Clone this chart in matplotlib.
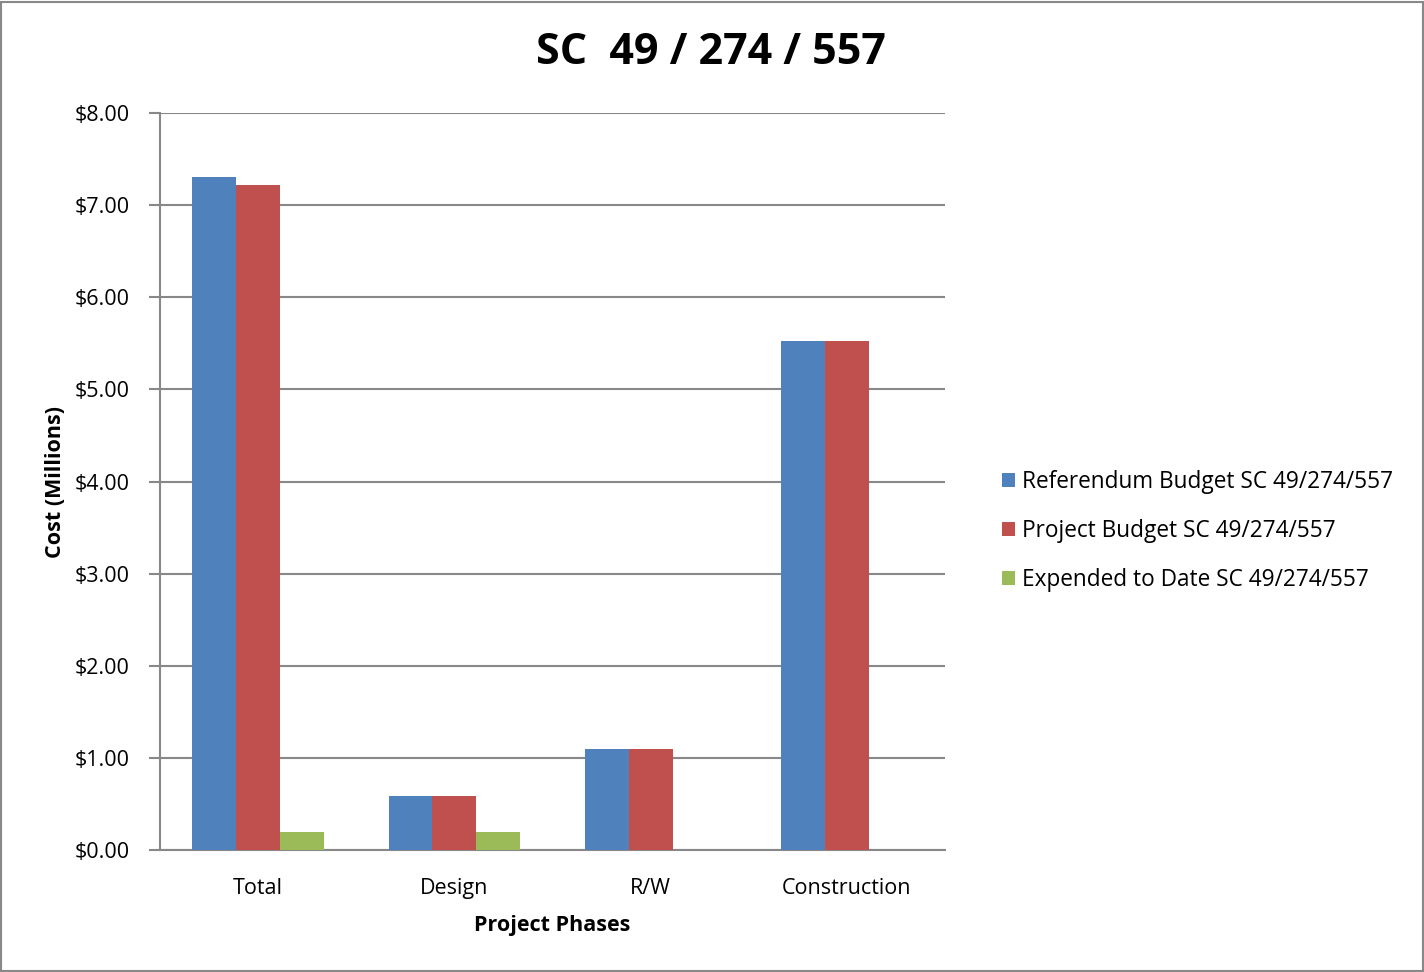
import numpy as np
import matplotlib.pyplot as plt
from matplotlib.patches import Rectangle

plt.rcParams['font.family'] = ['Open Sans', 'DejaVu Sans']

phases = ["Total", "Design", "R/W", "Construction"]
referendum = [7.30, 0.59, 1.10, 5.53]
project = [7.22, 0.59, 1.10, 5.53]
expended = [0.19, 0.19, 0.0, 0.0]
series_names = ["Referendum Budget SC 49/274/557",
                "Project Budget SC 49/274/557",
                "Expended to Date SC 49/274/557"]
colors = ["#4F81BD", "#C0504D", "#9BBB59"]

fig = plt.figure(figsize=(14.24, 9.72), dpi=100)
ax = fig.add_axes([160 / 1424, 1 - 850 / 972, 785 / 1424, 737 / 972])

x = np.arange(len(phases))
w = 0.223
for i, (vals, name, c) in enumerate(zip([referendum, project, expended], series_names, colors)):
    ax.bar(x + (i - 1) * w, vals, w, color=c, label=name, zorder=3)

ax.set_xlim(-0.5, 3.5)
ax.set_ylim(0, 8)
ax.set_yticks(np.arange(0, 9, 1))
ax.set_yticklabels([f"${v:.2f}" for v in range(9)], fontsize=15.5)
ax.set_xticks(x)
ax.set_xticklabels(phases, fontsize=15.5)
ax.tick_params(axis='x', length=0, pad=20)
ax.tick_params(axis='y', length=8, color='#888888', width=1.5, pad=14)
ax.grid(axis='y', color='#888888', linewidth=1.5, zorder=0)
for s in ['top', 'right']:
    ax.spines[s].set_visible(False)
for s in ['left', 'bottom']:
    ax.spines[s].set_color('#888888')
    ax.spines[s].set_linewidth(1.5)

ax.set_xlabel("Project Phases", fontsize=15.5, fontweight='bold', labelpad=12)
ax.set_ylabel("Cost (Millions)", fontsize=15.5, fontweight='bold', labelpad=6)
fig.text(711 / 1424, 1 - 52 / 972, "SC  49 / 274 / 557", fontsize=31, fontweight='bold',
         ha='center', va='center')

leg = fig.legend(loc='center left', bbox_to_anchor=(982 / 1424, 1 - 531 / 972), frameon=False,
                 fontsize=16.3, handlelength=0.55, handleheight=0.55, handletextpad=0.3,
                 labelspacing=1.1)

fig.patches.append(Rectangle((0.001, 0.001), 0.998, 0.997, transform=fig.transFigure,
                             fill=False, edgecolor='#888888', linewidth=1.5))

fig.savefig("out.png", dpi=100)
